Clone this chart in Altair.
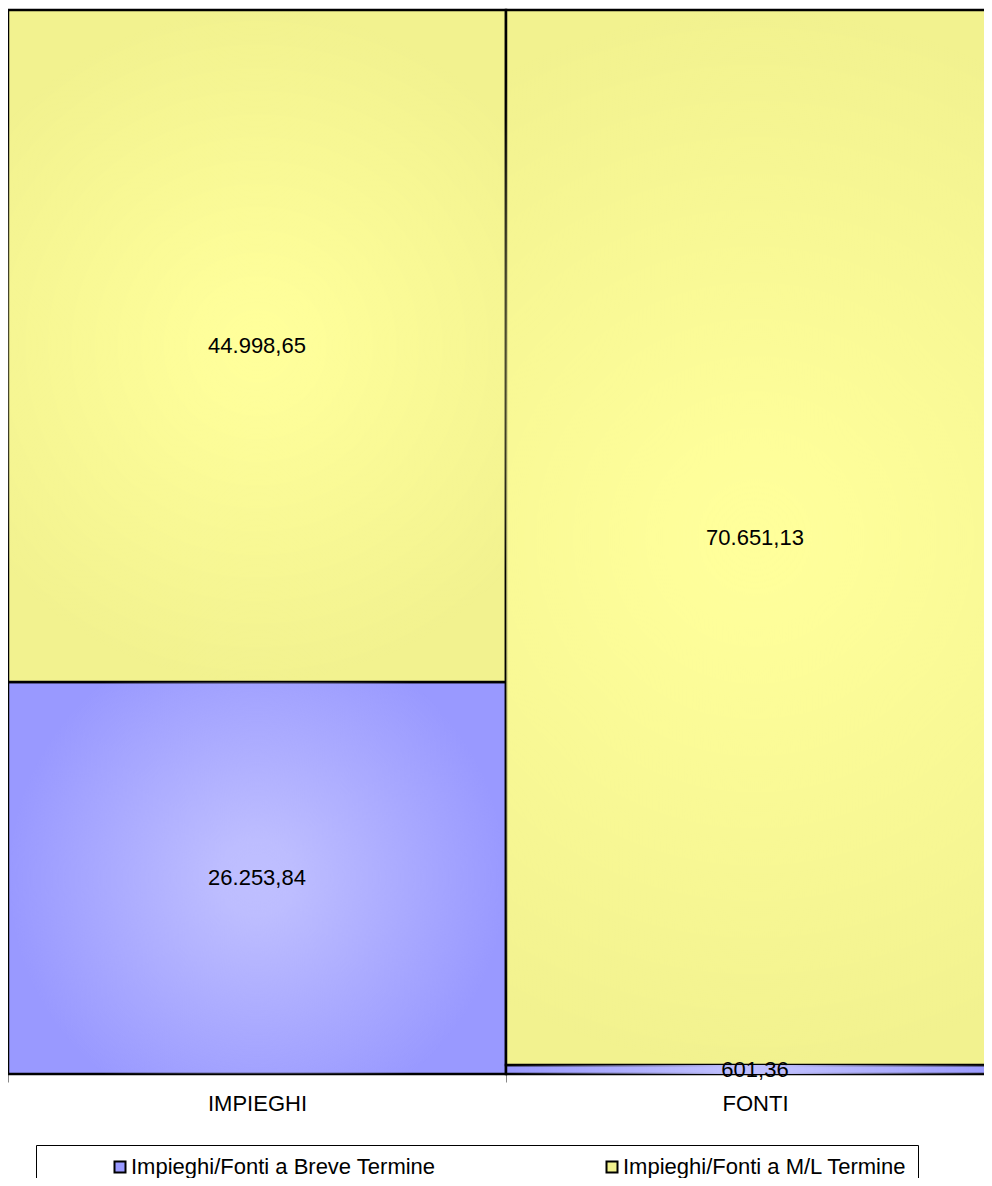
import altair as alt
import pandas as pd

categories = ["IMPIEGHI", "FONTI"]
series = ["Impieghi/Fonti a Breve Termine", "Impieghi/Fonti a M/L Termine"]
breve = [26253.84, 601.36]
ml = [44998.65, 70651.13]

colors = ["#9999FF", "#F2F28F"]
centers = ["191,191,255", "255,255,155"]


def it_fmt(v):
    s = f"{v:,.2f}"
    return s.replace(",", "X").replace(".", ",").replace("X", ".")


rows = []
for i, c in enumerate(categories):
    for j, (s, vals) in enumerate(zip(series, [breve, ml])):
        rows.append({"cat": c, "serie": s, "ord": j, "value": vals[i], "label": it_fmt(vals[i])})
df = pd.DataFrame(rows)

total = max(b + m for b, m in zip(breve, ml))

FONT = "Liberation Sans"

base = alt.Chart(df).transform_stack(
    stack="value", groupby=["cat"], as_=["y0", "y1"], sort=[alt.SortField("ord")]
).transform_calculate(mid="(datum.y0 + datum.y1) / 2")

xenc = alt.X(
    "cat:N",
    sort=categories,
    scale=alt.Scale(paddingInner=0, paddingOuter=0),
    axis=alt.Axis(
        title=None,
        labelAngle=0,
        labelFontSize=22,
        labelFont=FONT,
        labelColor="black",
        labelPadding=11,
        tickBand="extent",
        tickColor="#888888",
        tickSize=8,
        domainColor="black",
        domainWidth=1,
    ),
)
yscale = alt.Scale(domain=[0, total], nice=False, zero=True)

bars = base.mark_bar(stroke="black", strokeWidth=2.5).encode(
    x=xenc,
    y=alt.Y("y0:Q", scale=yscale, axis=None),
    y2="y1:Q",
    color=alt.Color(
        "serie:N",
        sort=series,
        scale=alt.Scale(domain=series, range=colors),
        legend=alt.Legend(
            title=None,
            orient="none",
            legendX=28,
            legendY=1135,
            direction="horizontal",
            columns=2,
            gridAlign="all",
            columnPadding=103,
            padding=11,
            strokeColor="black",
            fillColor="white",
            symbolType="square",
            symbolSize=121,
            symbolStrokeColor="black",
            symbolStrokeWidth=2,
            symbolOpacity=1,
            symbolOffset=62,
            labelOffset=0,
            labelFontSize=22,
            labelFont=FONT,
            labelColor="black",
            labelLimit=600,
        ),
    ),
    order=alt.Order("ord:Q"),
)

overlays = []
for s, cen in zip(series, centers):
    grad = alt.Gradient(
        gradient="radial",
        stops=[
            alt.GradientStop(offset=0, color=f"rgba({cen},1)"),
            alt.GradientStop(offset=0.15, color=f"rgba({cen},0.95)"),
            alt.GradientStop(offset=1, color=f"rgba({cen},0)"),
        ],
        x1=0.5, y1=0.5, r1=0, x2=0.5, y2=0.5, r2=0.5,
    )
    overlays.append(
        base.transform_filter(alt.datum.serie == s)
        .mark_bar(fill=grad, strokeWidth=0)
        .encode(x=xenc, y=alt.Y("y0:Q", scale=yscale, axis=None), y2="y1:Q")
    )

text = base.mark_text(fontSize=22, font=FONT, color="black", baseline="middle", align="center").encode(
    x=xenc,
    y=alt.Y("mid:Q", scale=yscale, axis=None),
    text="label:N",
)

chart = alt.layer(bars, *overlays, text).properties(
    width=996,
    height=1064,
    autosize=alt.AutoSizeParams(type="none"),
    padding={"left": 0, "top": 2, "right": -20, "bottom": 104},
).configure_view(stroke=None)

chart.save("out.html", embed_options={"renderer": "svg", "actions": False})
